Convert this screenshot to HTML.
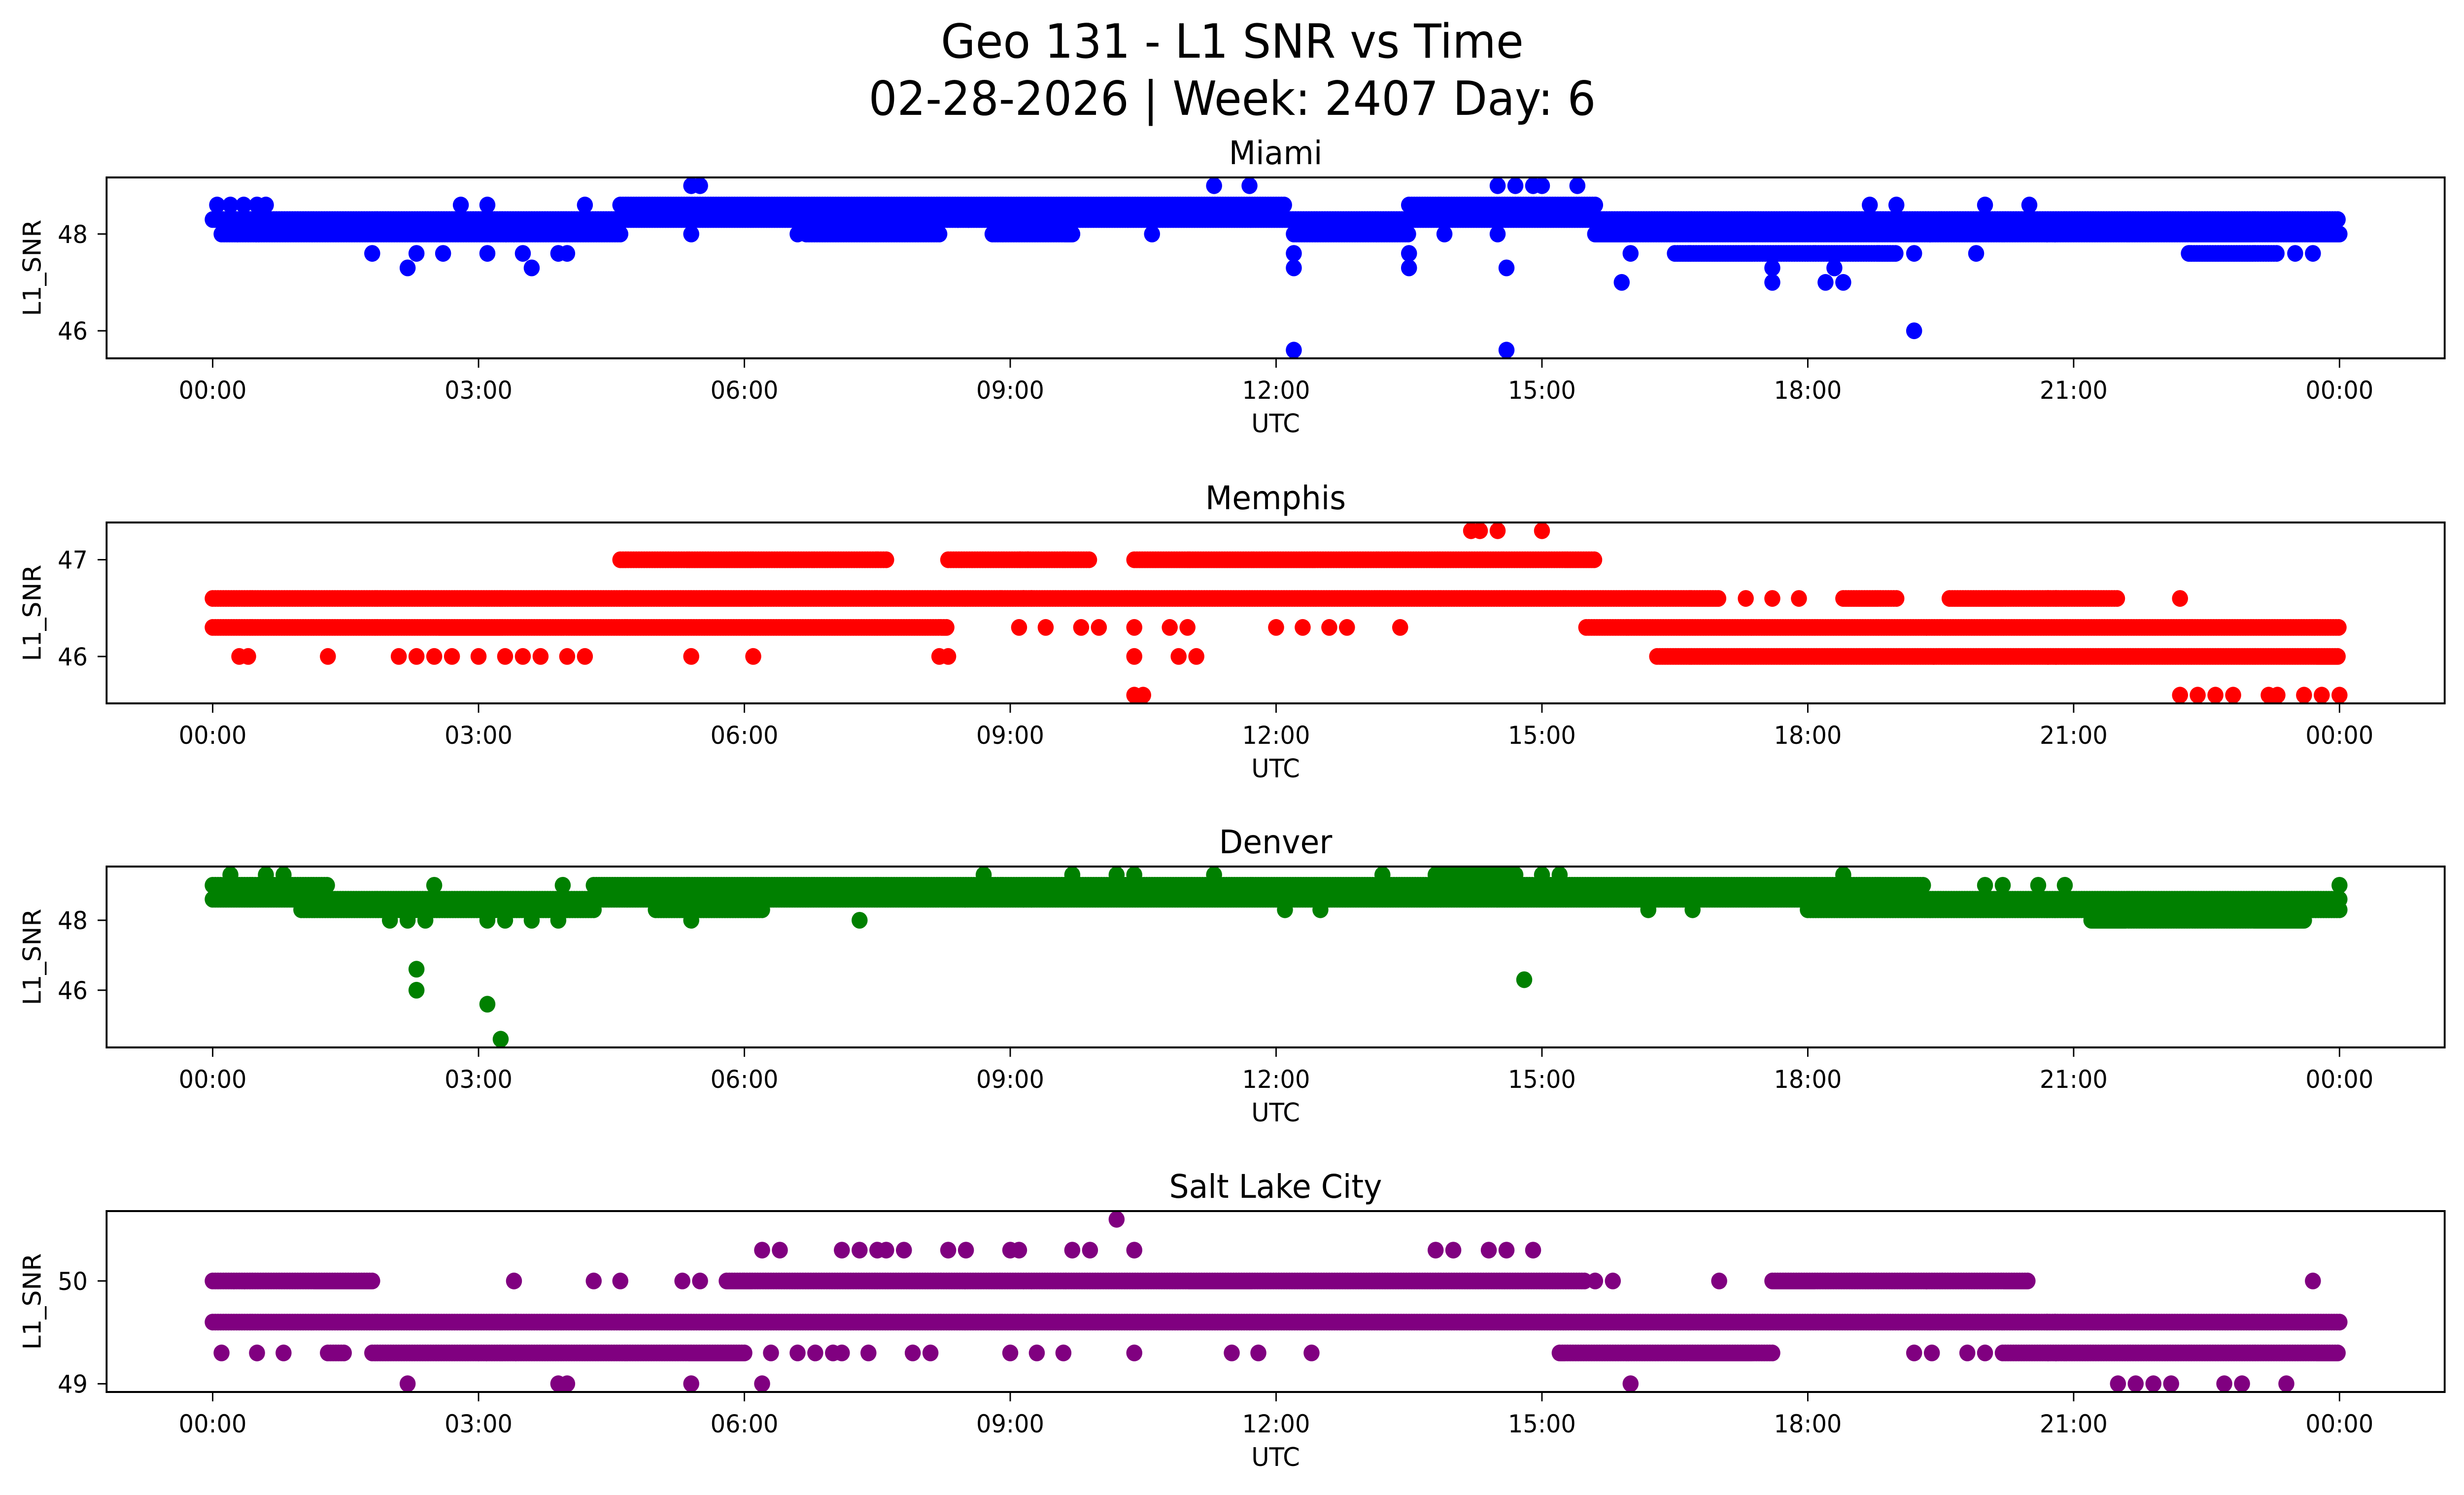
<!DOCTYPE html>
<html><head><meta charset="utf-8"><style>
html,body{margin:0;padding:0;background:#fff;overflow:hidden;width:100%;height:100%;}
svg{display:block;width:100vw;height:100vh;font-family:"DejaVu Sans","Liberation Sans",sans-serif;}
</style></head><body>
<svg id="chart" viewBox="0 0 5225 3033" preserveAspectRatio="none" xmlns="http://www.w3.org/2000/svg">
<rect width="5225" height="3033" fill="#fff"/>
<text x="2613" y="117" font-size="95" text-anchor="middle">Geo 131 - L1 SNR vs Time</text>
<text x="2613" y="233" font-size="95" text-anchor="middle">02-28-2026 | Week: 2407 Day: 6</text>
</svg>
<script>
// ---- data (runs: [value, startHour, endHour]; points: [value, hour]) ----
const cities = ["Miami","Memphis","Denver","Salt Lake City"];
const colors = ["#0000ff","#ff0000","#008000","#800080"];
const yTicks = [[46,48],[46,47],[46,48],[49,50]];
const xTickHours = [0,3,6,9,12,15,18,21,24];
const xTickLabels = ["00:00","03:00","06:00","09:00","12:00","15:00","18:00","21:00","00:00"];

const miamiRuns = [[48.0,0.1,4.6],[48.3,0,4.6],[48.3,4.6,24],[48.6,4.6,10.2],[48.0,6.7,8.2],[48.0,8.8,9.7],[48.6,10.2,12.1],[48.0,12.2,13.5],[48.6,13.5,15.6],[48.0,15.6,24],[47.6,16.5,19.0],[47.6,22.3,23.3]];
const miamiPoints = [[48.6,0.05],[48.6,0.2],[48.6,0.35],[48.6,0.5],[48.6,0.6],[47.6,1.8],[47.3,2.2],[47.6,2.3],[47.6,2.6],[48.6,2.8],[47.6,3.1],[48.6,3.1],[47.6,3.5],[47.3,3.6],[47.6,3.9],[47.6,4.0],[48.6,4.2],[49.0,5.4],[49.0,5.5],[48.0,5.4],[48.0,6.6],[48.0,7.3],[48.0,10.6],[49.0,11.3],[49.0,11.7],[45.6,12.2],[47.6,12.2],[47.3,12.2],[47.6,13.5],[47.3,13.5],[48.0,13.9],[49.0,14.5],[49.0,14.7],[49.0,14.9],[49.0,15.0],[48.0,14.5],[47.3,14.6],[45.6,14.6],[49.0,15.4],[47.0,15.9],[47.6,16.0],[47.3,17.6],[47.0,17.6],[47.3,18.3],[47.0,18.2],[47.0,18.4],[48.6,18.7],[48.6,19.0],[47.6,19.2],[46.0,19.2],[47.6,19.9],[48.6,20.0],[48.6,20.5],[47.6,23.5],[47.6,23.7]];

const memphisRuns = [[46.6,0,16.3],[46.3,0,8.3],[47.0,4.6,7.6],[47.0,8.3,9.9],[47.0,10.4,15.6],[46.3,15.5,24],[46.0,16.3,24],[46.6,16.3,17.0],[46.6,18.4,19.0],[46.6,19.6,21.5]];
const memphisPoints = [[46.0,0.3],[46.0,0.4],[46.0,1.3],[46.0,2.1],[46.0,2.3],[46.0,2.5],[46.0,2.7],[46.0,3.0],[46.0,3.3],[46.0,3.5],[46.0,3.7],[46.0,4.0],[46.0,4.2],[46.0,5.4],[46.0,6.1],[46.0,8.2],[46.0,8.3],[46.3,9.1],[46.3,9.4],[46.3,9.8],[46.3,10.0],[46.3,10.4],[46.3,10.8],[46.3,11.0],[46.0,10.4],[46.0,10.9],[46.0,11.1],[45.6,10.4],[45.6,10.5],[46.3,12.0],[46.3,12.3],[46.3,12.6],[46.3,12.8],[46.3,13.4],[47.3,14.2],[47.3,14.3],[47.3,14.5],[47.3,15.0],[46.6,17.3],[46.6,17.6],[46.6,17.9],[46.6,22.2],[45.6,22.2],[45.6,22.4],[45.6,22.6],[45.6,22.8],[45.6,23.2],[45.6,23.3],[45.6,23.6],[45.6,23.8],[45.6,24.0]];

const denverRuns = [[49.0,0,1.3],[48.6,0,24],[48.3,1.0,4.3],[49.0,4.3,19.3],[48.3,5.0,6.2],[48.3,18.0,24],[48.0,21.2,23.6],[49.3,13.8,14.7]];
const denverPoints = [[49.3,0.2],[49.3,0.6],[49.3,0.8],[48.0,2.0],[48.0,2.2],[48.0,2.4],[46.6,2.3],[46.0,2.3],[49.0,2.5],[45.6,3.1],[48.0,3.1],[44.6,3.25],[48.0,3.3],[48.0,3.6],[48.0,3.9],[49.0,3.95],[48.0,5.4],[48.0,7.3],[49.3,8.7],[49.3,9.7],[49.3,10.2],[49.3,10.4],[49.3,11.3],[48.3,12.1],[48.3,12.5],[49.3,13.2],[48.6,14.5],[46.3,14.8],[49.3,15.0],[49.3,15.2],[48.3,16.2],[48.3,16.7],[49.3,18.4],[49.0,20.0],[49.0,20.2],[49.0,20.6],[49.0,20.9],[49.0,24.0]];

const slcRuns = [[49.6,0,24],[50.0,0,1.8],[49.3,1.8,6.0],[50.0,6.0,15.5],[50.0,5.8,6.0],[49.3,15.2,17.6],[50.0,17.6,20.5],[49.3,20.2,24],[49.3,1.3,1.5]];
const slcPoints = [[49.3,0.1],[49.3,0.5],[49.3,0.8],[49.0,2.2],[50.0,3.4],[49.0,3.9],[49.0,4.0],[50.0,4.3],[50.0,4.6],[50.0,5.3],[50.0,5.5],[49.0,5.4],[49.3,6.3],[49.3,6.6],[49.3,6.8],[49.3,7.0],[49.3,7.1],[49.0,6.2],[50.3,6.2],[50.3,6.4],[50.3,7.1],[50.3,7.3],[50.3,7.5],[50.3,7.6],[50.3,7.8],[49.3,7.4],[49.3,7.9],[49.3,8.1],[50.3,8.3],[50.3,8.5],[49.3,9.0],[50.3,9.0],[50.3,9.1],[49.3,9.3],[49.3,9.6],[50.3,9.7],[50.3,9.9],[50.6,10.2],[50.3,10.4],[49.3,10.4],[49.3,11.5],[49.3,11.8],[49.3,12.4],[50.3,13.8],[50.3,14.0],[50.3,14.4],[50.3,14.6],[50.3,14.9],[50.0,15.6],[50.0,15.8],[49.0,16.0],[50.0,17.0],[49.3,19.2],[49.3,19.4],[49.3,19.8],[49.3,20.0],[49.0,21.5],[49.0,21.7],[49.0,21.9],[49.0,22.1],[49.0,22.7],[49.0,22.9],[49.0,23.4],[50.0,23.7]];

const allRuns = [miamiRuns, memphisRuns, denverRuns, slcRuns];
const allPoints = [miamiPoints, memphisPoints, denverPoints, slcPoints];

// ---- layout ----
const NS = "http://www.w3.org/2000/svg";
const svg = document.getElementById("chart");
const L = 226, R = 5184, H = 367;
const tops = [360, 1060, 1758, 2457];
const x0 = 451, x1 = 4961;
const RAD = 17;
function xScale(h){ return x0 + h * (x1 - x0) / 24; }
function mk(tag, attrs){ const e = document.createElementNS(NS, tag); for (const k in attrs) e.setAttribute(k, attrs[k]); return e; }

for (let i = 0; i < 4; i++) {
  const top = tops[i];
  const g = mk("g", {});
  
  
  svg.appendChild(g);
  const vals = [];
  allRuns[i].forEach(r => vals.push(r[0]));
  allPoints[i].forEach(p => vals.push(p[0]));
  const mn = Math.min(...vals), mx = Math.max(...vals);
  const pad = (mx - mn) * 0.05;
  const lo = mn - pad, hi = mx + pad;
  const yScale = v => top + H - (v - lo) / (hi - lo) * H;

  const pts = [];
  allRuns[i].forEach(r => { for (let h = r[1]; h <= r[2] + 1e-9; h += 0.03) pts.push([r[0], h]); });
  allPoints[i].forEach(p => pts.push(p));
  let d = "";
  pts.forEach(p => { const cx = xScale(p[1]), cy = yScale(p[0]); d += `M${(cx-RAD).toFixed(1)} ${cy.toFixed(1)}a${RAD} ${RAD} 0 1 0 ${2*RAD} 0a${RAD} ${RAD} 0 1 0 ${-2*RAD} 0`; });
  const series = mk("path", {d: d, fill: colors[i]});
  
  
  g.appendChild(series);

  const frame = mk("rect", {x: L, y: top, width: R - L, height: H, fill: "none", stroke: "#000", "stroke-width": 4});
  
  
  g.appendChild(frame);

  xTickHours.forEach((h, k) => {
    const x = xScale(h);
    const t = mk("line", {x1: x, x2: x, y1: top + H, y2: top + H + 19, stroke: "#000", "stroke-width": 3});
    
    
    g.appendChild(t);
    const lb = mk("text", {x: x, y: top + H + 82, "font-size": 50, "text-anchor": "middle"});
    lb.textContent = xTickLabels[k];
    
    
    g.appendChild(lb);
  });
  yTicks[i].forEach(v => {
    const y = yScale(v);
    const t = mk("line", {x1: L - 19, x2: L, y1: y, y2: y, stroke: "#000", "stroke-width": 3});
    
    
    g.appendChild(t);
    const lb = mk("text", {x: L - 40, y: y + 18, "font-size": 50, "text-anchor": "end"});
    lb.textContent = String(v);
    
    
    g.appendChild(lb);
  });
  const xl = mk("text", {x: (L + R) / 2, y: top + H + 150, "font-size": 52, "text-anchor": "middle"});
  xl.textContent = "UTC";
  
  
  g.appendChild(xl);
  const yl = mk("text", {x: 0, y: 0, "font-size": 52, "text-anchor": "middle", transform: `translate(86 ${top + H / 2}) rotate(-90)`});
  yl.textContent = "L1_SNR";
  
  
  g.appendChild(yl);
  const tt = mk("text", {x: (L + R) / 2, y: top - 27, "font-size": 66, "text-anchor": "middle"});
  tt.textContent = cities[i];
  
  
  g.appendChild(tt);
}
</script>
</body></html>
